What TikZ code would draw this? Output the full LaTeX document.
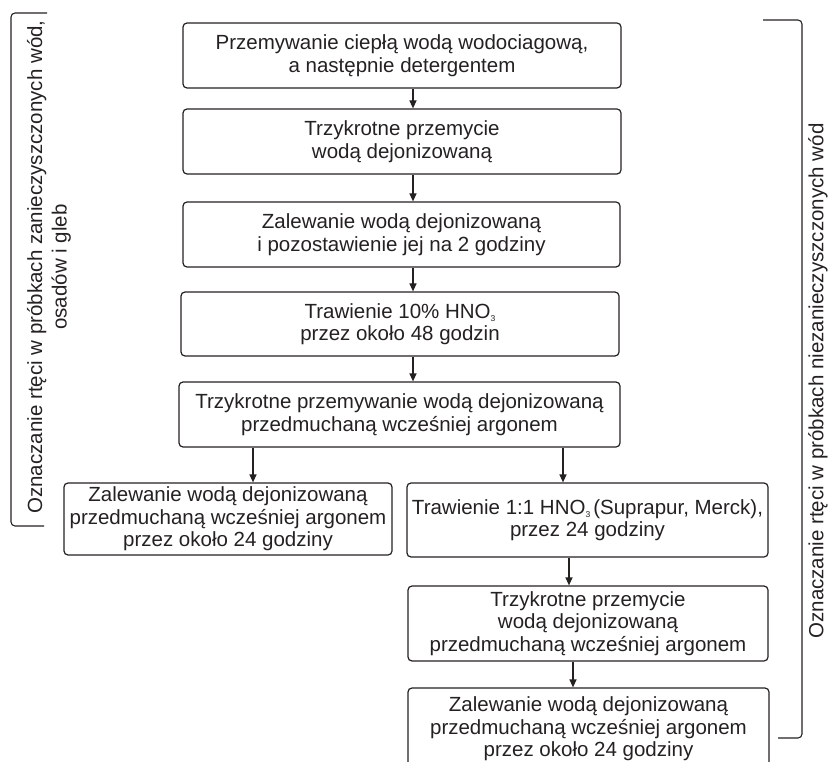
\documentclass[tikz,border=0pt]{standalone}
\usepackage{fontspec}
\setmainfont{Liberation Sans}
\usetikzlibrary{positioning,arrows.meta}
\definecolor{inkGray}{rgb}{0.14,0.13,0.13}
\tikzset{
  stepBox/.style={rectangle, rounded corners=4pt, draw=inkGray, line width=1.2pt, text=inkGray, align=center, inner sep=0pt},
  nextOp/.style={-{Triangle[length=8pt,width=7pt]}, draw=inkGray, line width=1.2pt},
  braceLine/.style={draw=inkGray, line width=1.1pt, rounded corners=4pt},
  sideLabel/.style={rotate=90, align=center, text=inkGray, inner sep=0pt}
}
\newcommand{\subThree}{\raisebox{-3pt}{\fontsize{8.5}{8.5}\selectfont 3}}

\begin{document}
\begin{tikzpicture}[x=1pt, y=-1pt]
      \fontsize{20.5}{22.5}\selectfont
      \useasboundingbox (0,0) rectangle (828,762);

      % main column
      \node[stepBox, minimum width=438pt, minimum height=65pt] (wash) at (402,55.5)
        {Przemywanie ciepłą wodą wodociagową,\\a następnie detergentem};
      \node[stepBox, minimum width=438pt, minimum height=65pt] (rinse) at (402,141.5)
        {Trzykrotne przemycie\\wodą dejonizowaną};
      \node[stepBox, minimum width=437pt, minimum height=65pt] (soak) at (401.5,234.5)
        {Zalewanie wodą dejonizowaną\\i pozostawienie jej na 2 godziny};
      \node[stepBox, minimum width=438pt, minimum height=64pt] (etch) at (400,324)
        {Trawienie 10\% HNO\subThree\\przez około 48 godzin};
      \node[stepBox, minimum width=441pt, minimum height=65pt] (rinseAr) at (399.5,414.5)
        {Trzykrotne przemywanie wodą dejonizowaną\\przedmuchaną wcześniej argonem};

      % left branch
      \node[stepBox, minimum width=328pt, minimum height=72pt] (soakLeft) at (228,519)
        {Zalewanie wodą dejonizowaną\\przedmuchaną wcześniej argonem\\przez około 24 godziny};

      % right branch
      \node[stepBox, minimum width=361pt, minimum height=74pt] (etchRight) at (587.5,520)
        {Trawienie 1:1 HNO\subThree\hspace{3pt}(Suprapur, Merck),\\przez 24 godziny};
      \node[stepBox, minimum width=360pt, minimum height=75pt] (rinseRight) at (588,623.5)
        {Trzykrotne przemycie\\wodą dejonizowaną\\przedmuchaną wcześniej argonem};
      \node[stepBox, minimum width=361pt, minimum height=82pt] (soakRight) at (588.5,729)
        {Zalewanie wodą dejonizowaną\\przedmuchaną wcześniej argonem\\przez około 24 godziny};

      % arrow lines
      \coordinate (mainLine) at (413,0);
      \coordinate (leftLine) at (253,0);
      \coordinate (rightLine) at (563,0);
      \coordinate (rightLineB) at (569,0);
      \coordinate (rightLineC) at (573,0);

      \draw[nextOp] (wash.south -| mainLine) -- (rinse.north -| mainLine);
      \draw[nextOp] (rinse.south -| mainLine) -- (soak.north -| mainLine);
      \draw[nextOp] (soak.south -| mainLine) -- (etch.north -| mainLine);
      \draw[nextOp] (etch.south -| mainLine) -- (rinseAr.north -| mainLine);
      \draw[nextOp] (rinseAr.south -| leftLine) -- (soakLeft.north -| leftLine);
      \draw[nextOp] (rinseAr.south -| rightLine) -- (etchRight.north -| rightLine);
      \draw[nextOp] (etchRight.south -| rightLineB) -- (rinseRight.north -| rightLineB);
      \draw[nextOp] (rinseRight.south -| rightLineC) -- (soakRight.north -| rightLineC);

      % side brackets
      \draw[braceLine] (47,13) -- (11,13) -- (11,526) -- (44,526);
      \node[sideLabel, font={\fontsize{20.5}{24.5}\selectfont}] (pollutedLabel) at (49,267)
        {Oznaczanie rtęci w próbkach zanieczyszczonych wód,\\osadów i gleb};

      \draw[braceLine] (763,20) -- (802,20) -- (802,738) -- (778,738);
      \node[sideLabel] (cleanLabel) at (818,381)
        {Oznaczanie rtęci w próbkach niezanieczyszczonych wód};

    \end{tikzpicture}
\end{document}
